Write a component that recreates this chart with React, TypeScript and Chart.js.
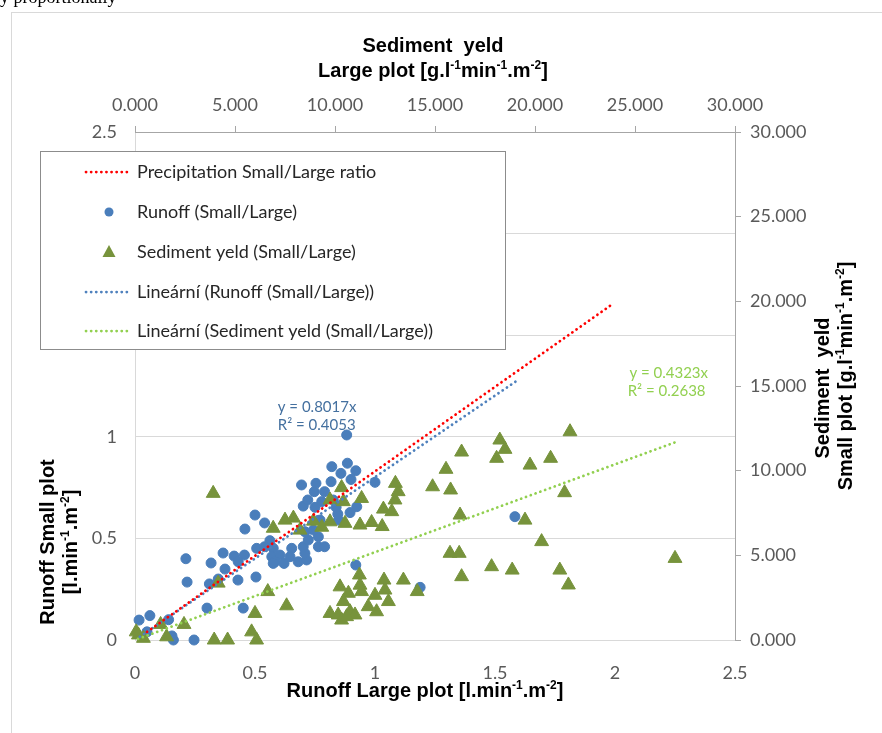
import React, { useEffect, useRef } from 'react';
import { Chart, registerables } from 'chart.js';

Chart.register(...registerables);

// ---- Runoff (Small/Large) : primary axes, l.min-1.m-2 ----
const runoffLarge = [0.017, 0.062, 0.05, 0.14, 0.154, 0.16, 0.246, 0.212, 0.217, 0.317, 0.30, 0.31, 0.367, 0.375, 0.413, 0.429, 0.347, 0.451, 0.456, 0.458, 0.50, 0.54, 0.507, 0.504, 0.43, 0.562, 0.54, 0.576, 0.57, 0.604, 0.583, 0.621, 0.576, 0.653, 0.646, 0.68, 0.715, 0.708, 0.701, 0.764, 0.79, 0.722, 0.764, 0.708, 0.743, 0.771, 0.848, 0.845, 0.896, 0.924, 0.838, 0.75, 0.701, 0.778, 0.72, 0.747, 0.79, 0.694, 0.754, 0.817, 1.0, 0.9, 0.858, 0.92, 0.885, 0.82, 0.882, 0.92, 1.583, 1.188, 0.826];
const runoffSmall = [0.098, 0.12, 0.04, 0.10, 0.02, 0.0, 0.0, 0.40, 0.285, 0.379, 0.157, 0.276, 0.428, 0.349, 0.413, 0.295, 0.30, 0.157, 0.418, 0.546, 0.615, 0.576, 0.451, 0.31, 0.385, 0.489, 0.459, 0.451, 0.41, 0.418, 0.385, 0.377, 0.377, 0.451, 0.41, 0.385, 0.394, 0.427, 0.459, 0.459, 0.459, 0.492, 0.508, 0.533, 0.541, 0.59, 0.59, 0.62, 0.627, 0.656, 0.653, 0.653, 0.659, 0.681, 0.689, 0.73, 0.73, 0.763, 0.771, 0.779, 0.776, 0.79, 0.82, 0.833, 0.87, 0.853, 1.009, 0.369, 0.607, 0.259, 0.689];

// ---- Sediment yeld (Small/Large) : secondary axes, g.l-1min-1.m-2 ----
const sedimentLarge = [0.17, 0.42, 1.28, 1.58, 2.45, 3.91, 4.16, 3.96, 4.63, 6.0, 5.83, 6.08, 6.64, 7.58, 6.91, 7.5, 7.92, 8.25, 8.92, 9.34, 9.75, 9.75, 10.33, 10.42, 10.5, 11.33, 11.25, 11.83, 12.36, 12.42, 12.84, 13.0, 13.16, 13.02, 14.88, 15.55, 15.78, 16.33, 16.25, 15.75, 16.21, 16.33, 17.83, 18.08, 18.24, 18.5, 18.86, 19.5, 19.75, 20.33, 20.78, 21.24, 21.48, 21.67, 21.75, 27.0, 13.42, 14.11, 12.45, 12.5, 12.67, 12.08, 11.66, 11.22, 11.25, 11.33, 10.25, 10.67, 10.42, 9.75, 10.16, 10.33, 10.75, 11.0, 10.58, 12.0, 0.06];
const sedimentSmall = [0.3, 0.1, 0.92, 0.19, 0.92, 8.66, 3.36, 0.0, 0.0, 1.57, 0.48, 0.0, 2.86, 2.02, 6.6, 7.08, 7.2, 6.49, 7.02, 6.66, 6.98, 8.27, 9.0, 8.17, 6.89, 8.36, 6.79, 6.94, 6.7, 7.73, 7.58, 8.27, 8.76, 9.25, 9.05, 10.08, 8.86, 11.1, 7.38, 5.12, 5.12, 3.74, 4.33, 10.73, 11.81, 11.26, 4.13, 7.08, 10.33, 5.81, 10.73, 4.13, 8.7, 3.25, 12.3, 4.82, 3.54, 2.86, 3.54, 2.95, 2.27, 1.67, 1.97, 3.84, 3.24, 2.86, 3.14, 2.76, 2.27, 1.57, 1.48, 1.18, 1.67, 1.48, 1.38, 2.64, 0.48];

// ---- Lines ----
const precipX = [0.05, 1.98];
const precipY = [0.04, 1.645];
const runoffTrendX = [0.02, 1.6];
const runoffTrendY = [0.016, 1.283];
const sedimentTrendX = [0.15, 27.0];
const sedimentTrendY = [0.065, 11.67];

// ---- Ticks ----
const primaryTicks = [0, 0.5, 1, 1.5, 2, 2.5];
const primaryTickLabels = ['0', '0.5', '1', '1.5', '2', '2.5'];
const secondaryTicks = [0, 5, 10, 15, 20, 25, 30];
const secondaryTickLabels = ['0.000', '5.000', '10.000', '15.000', '20.000', '25.000', '30.000'];

// ---- Texts ----
const legendLabels = [
  'Precipitation Small/Large ratio',
  'Runoff (Small/Large)',
  'Sediment yeld (Small/Large)',
  'Lineární (Runoff (Small/Large))',
  'Lineární (Sediment yeld (Small/Large))',
];
const runoffEq = ['y = 0.8017x', 'R² = 0.4053'];
const sedimentEq = ['y = 0.4323x', 'R² = 0.2638'];

type Seg = { t: string; sup?: boolean };
const topTitle1: Seg[] = [{ t: 'Sediment  yeld' }];
const topTitle2: Seg[] = [{ t: 'Large plot [g.l' }, { t: '-1', sup: true }, { t: 'min' }, { t: '-1', sup: true }, { t: '.m' }, { t: '-2', sup: true }, { t: ']' }];
const bottomTitle: Seg[] = [{ t: 'Runoff Large plot [l.min' }, { t: '-1', sup: true }, { t: '.m' }, { t: '-2', sup: true }, { t: ']' }];
const leftTitle1: Seg[] = [{ t: 'Runoff Small plot' }];
const leftTitle2: Seg[] = [{ t: '[l.min' }, { t: '-1', sup: true }, { t: '.m' }, { t: '-2', sup: true }, { t: ']' }];
const rightTitle1: Seg[] = [{ t: 'Sediment  yeld' }];
const rightTitle2: Seg[] = [{ t: 'Small plot [g.l' }, { t: '-1', sup: true }, { t: 'min' }, { t: '-1', sup: true }, { t: '.m' }, { t: '-2', sup: true }, { t: ']' }];

const RED = '#ff0000';
const BLUE = '#4a7ebb';
const BLUE_TREND = '#4f81bd';
const OLIVE = '#77933c';
const LIGHT_GREEN = '#92d050';
const TICK_FONT = { family: 'Lato, "Noto Sans", sans-serif', size: 18 };
const TITLE_FAMILY = '"Liberation Sans", Arial, sans-serif';

function drawRich(ctx: CanvasRenderingContext2D, segs: Seg[], x: number, y: number, size: number, rotate: boolean) {
  const base = `bold ${size}px ${TITLE_FAMILY}`;
  const sup = `bold ${Math.round(size * 0.62)}px ${TITLE_FAMILY}`;
  let w = 0;
  for (const s of segs) {
    ctx.font = s.sup ? sup : base;
    w += ctx.measureText(s.t).width;
  }
  ctx.save();
  ctx.translate(x, y);
  if (rotate) ctx.rotate(-Math.PI / 2);
  ctx.textBaseline = 'alphabetic';
  ctx.textAlign = 'left';
  ctx.fillStyle = '#000';
  let cx = -w / 2;
  const baseY = size * 0.36;
  for (const s of segs) {
    ctx.font = s.sup ? sup : base;
    ctx.fillText(s.t, cx, s.sup ? baseY - size * 0.42 : baseY);
    cx += ctx.measureText(s.t).width;
  }
  ctx.restore();
}

function dotted(ctx: CanvasRenderingContext2D, color: string, x1: number, y1: number, x2: number, y2: number) {
  ctx.save();
  ctx.strokeStyle = color;
  ctx.lineWidth = 2.75;
  ctx.lineCap = 'round';
  ctx.setLineDash([0.1, 5]);
  ctx.beginPath();
  ctx.moveTo(x1, y1);
  ctx.lineTo(x2, y2);
  ctx.stroke();
  ctx.restore();
}

const backgroundPlugin = {
  id: 'pageBackground',
  beforeDraw(chart: any) {
    const ctx: CanvasRenderingContext2D = chart.ctx;
    ctx.save();
    ctx.fillStyle = '#fff';
    ctx.fillRect(0, 0, chart.width, chart.height);
    ctx.font = '18px "Liberation Serif", "Times New Roman", serif';
    ctx.fillStyle = '#000';
    ctx.textBaseline = 'alphabetic';
    ctx.fillText('y proportionally', 0, 3);
    ctx.strokeStyle = '#d9d9d9';
    ctx.lineWidth = 1;
    ctx.strokeRect(11.5, 12.5, 1000, 1000);
    ctx.restore();
  },
};

const overlayPlugin = {
  id: 'overlay',
  afterDraw(chart: any) {
    const ctx: CanvasRenderingContext2D = chart.ctx;
    const xs = chart.scales.x;
    const ys = chart.scales.y;
    const ca = chart.chartArea;
    const cxm = (ca.left + ca.right) / 2;

    // axis titles
    drawRich(ctx, topTitle1, cxm - 2, 45, 20, false);
    drawRich(ctx, topTitle2, cxm - 2, 70, 20, false);
    drawRich(ctx, bottomTitle, cxm - 10, 690, 20, false);
    drawRich(ctx, leftTitle1, 47, 542, 20, true);
    drawRich(ctx, leftTitle2, 70, 542, 20, true);
    drawRich(ctx, rightTitle1, 822, 388, 20, true);
    drawRich(ctx, rightTitle2, 845, 376, 20, true);

    // trendline equations
    ctx.save();
    ctx.font = '15px Lato, "Noto Sans", sans-serif';
    ctx.textBaseline = 'middle';
    ctx.textAlign = 'left';
    ctx.fillStyle = '#44709f';
    ctx.fillText(runoffEq[0], xs.getPixelForValue(0.595), ys.getPixelForValue(1.147));
    ctx.fillText(runoffEq[1], xs.getPixelForValue(0.595), ys.getPixelForValue(1.058));
    ctx.fillStyle = LIGHT_GREEN;
    ctx.fillText(sedimentEq[0], xs.getPixelForValue(2.06), ys.getPixelForValue(1.313));
    ctx.fillText(sedimentEq[1], xs.getPixelForValue(2.053), ys.getPixelForValue(1.225));
    ctx.restore();

    // legend
    const bx = 40.5, by = 151.5, bw = 465, bh = 198;
    ctx.save();
    ctx.fillStyle = '#fff';
    ctx.fillRect(bx, by, bw, bh);
    ctx.strokeStyle = '#8c8c8c';
    ctx.lineWidth = 1;
    ctx.strokeRect(bx, by, bw, bh);
    const rows = [172, 212, 252, 292, 331];
    dotted(ctx, RED, 86, rows[0], 130, rows[0]);
    ctx.fillStyle = BLUE;
    ctx.beginPath();
    ctx.arc(109, rows[1], 4.5, 0, Math.PI * 2);
    ctx.fill();
    ctx.fillStyle = OLIVE;
    ctx.beginPath();
    ctx.moveTo(109, rows[2] - 7);
    ctx.lineTo(115.5, rows[2] + 5);
    ctx.lineTo(102.5, rows[2] + 5);
    ctx.closePath();
    ctx.fill();
    dotted(ctx, BLUE_TREND, 86, rows[3], 130, rows[3]);
    dotted(ctx, LIGHT_GREEN, 86, rows[4], 130, rows[4]);
    ctx.font = '18px Lato, "Noto Sans", sans-serif';
    ctx.fillStyle = '#262626';
    ctx.textBaseline = 'middle';
    ctx.textAlign = 'left';
    legendLabels.forEach((l, i) => ctx.fillText(l, 137, rows[i]));
    ctx.restore();
  },
};

export default function App() {
  const ref = useRef<HTMLCanvasElement | null>(null);

  useEffect(() => {
    if (!ref.current) return;
    const pts = (xa: number[], ya: number[]) => xa.map((x, i) => ({ x, y: ya[i] }));
    const trendStyle = (color: string) => ({
      type: 'line' as const,
      showLine: true,
      borderColor: color,
      backgroundColor: color,
      borderWidth: 2.75,
      borderDash: [0.1, 5],
      borderCapStyle: 'round' as const,
      pointRadius: 0,
      fill: false,
      clip: false as const,
    });

    const chart = new Chart(ref.current, {
      type: 'scatter',
      data: {
        datasets: [
          { ...trendStyle(RED), label: legendLabels[0], data: pts(precipX, precipY), xAxisID: 'x', yAxisID: 'y', order: 0 },
          { ...trendStyle(BLUE_TREND), label: legendLabels[3], data: pts(runoffTrendX, runoffTrendY), xAxisID: 'x', yAxisID: 'y', order: 1 },
          { ...trendStyle(LIGHT_GREEN), label: legendLabels[4], data: pts(sedimentTrendX, sedimentTrendY), xAxisID: 'x2', yAxisID: 'y2', order: 2 },
          {
            label: legendLabels[2],
            data: pts(sedimentLarge, sedimentSmall),
            xAxisID: 'x2',
            yAxisID: 'y2',
            pointStyle: 'triangle',
            pointRadius: 8,
            backgroundColor: OLIVE,
            borderColor: OLIVE,
            borderWidth: 1,
            clip: false,
            order: 3,
          },
          {
            label: legendLabels[1],
            data: pts(runoffLarge, runoffSmall),
            xAxisID: 'x',
            yAxisID: 'y',
            pointStyle: 'circle',
            pointRadius: 5,
            backgroundColor: BLUE,
            borderColor: BLUE,
            borderWidth: 1,
            clip: false,
            order: 4,
          },
        ] as any,
      },
      options: {
        responsive: false,
        animation: false,
        devicePixelRatio: 1,
        layout: { padding: 0 },
        plugins: { legend: { display: false }, tooltip: { enabled: false } },
        events: [],
        scales: {
          x: {
            type: 'linear',
            position: 'bottom',
            min: 0,
            max: 2.5,
            afterBuildTicks: (s: any) => { s.ticks = primaryTicks.map((v) => ({ value: v })); },
            afterFit: (s: any) => { s.height = 93; },
            ticks: { callback: (_v: any, i: number) => primaryTickLabels[i], color: '#595959', font: TICK_FONT, padding: 14, maxRotation: 0 },
            grid: { display: false },
            border: { display: true, color: '#d9d9d9', width: 1 },
          },
          y: {
            type: 'linear',
            position: 'left',
            min: 0,
            max: 2.5,
            afterBuildTicks: (s: any) => { s.ticks = primaryTicks.map((v) => ({ value: v })); },
            afterFit: (s: any) => { s.width = 135; },
            ticks: { callback: (_v: any, i: number) => primaryTickLabels[i], color: '#595959', font: TICK_FONT, padding: 18 },
            grid: { display: true, color: '#d9d9d9', drawTicks: false, drawOnChartArea: true },
            border: { display: true, color: '#d9d9d9', width: 1 },
          },
          x2: {
            type: 'linear',
            position: 'top',
            min: 0,
            max: 30,
            afterBuildTicks: (s: any) => { s.ticks = secondaryTicks.map((v) => ({ value: v })); },
            afterFit: (s: any) => { s.height = 132; },
            ticks: { callback: (_v: any, i: number) => secondaryTickLabels[i], color: '#595959', font: TICK_FONT, padding: 10, maxRotation: 0 },
            grid: { display: true, drawOnChartArea: false, drawTicks: true, tickLength: 6, color: '#a6a6a6' },
            border: { display: true, color: '#a6a6a6', width: 1 },
          },
          y2: {
            type: 'linear',
            position: 'right',
            min: 0,
            max: 30,
            afterBuildTicks: (s: any) => { s.ticks = secondaryTicks.map((v) => ({ value: v })); },
            afterFit: (s: any) => { s.width = 147; },
            ticks: { callback: (_v: any, i: number) => secondaryTickLabels[i], color: '#595959', font: TICK_FONT, padding: 9 },
            grid: { display: true, drawOnChartArea: false, drawTicks: true, tickLength: 6, color: '#a6a6a6' },
            border: { display: true, color: '#a6a6a6', width: 1 },
          },
        },
      } as any,
      plugins: [backgroundPlugin, overlayPlugin],
    });
    return () => chart.destroy();
  }, []);

  return (
    <div style={{ position: 'absolute', left: 0, top: 0, width: 882, height: 733, background: '#fff' }}>
      <canvas ref={ref} width={882} height={733} style={{ display: 'block', width: 882, height: 733 }} />
    </div>
  );
}
